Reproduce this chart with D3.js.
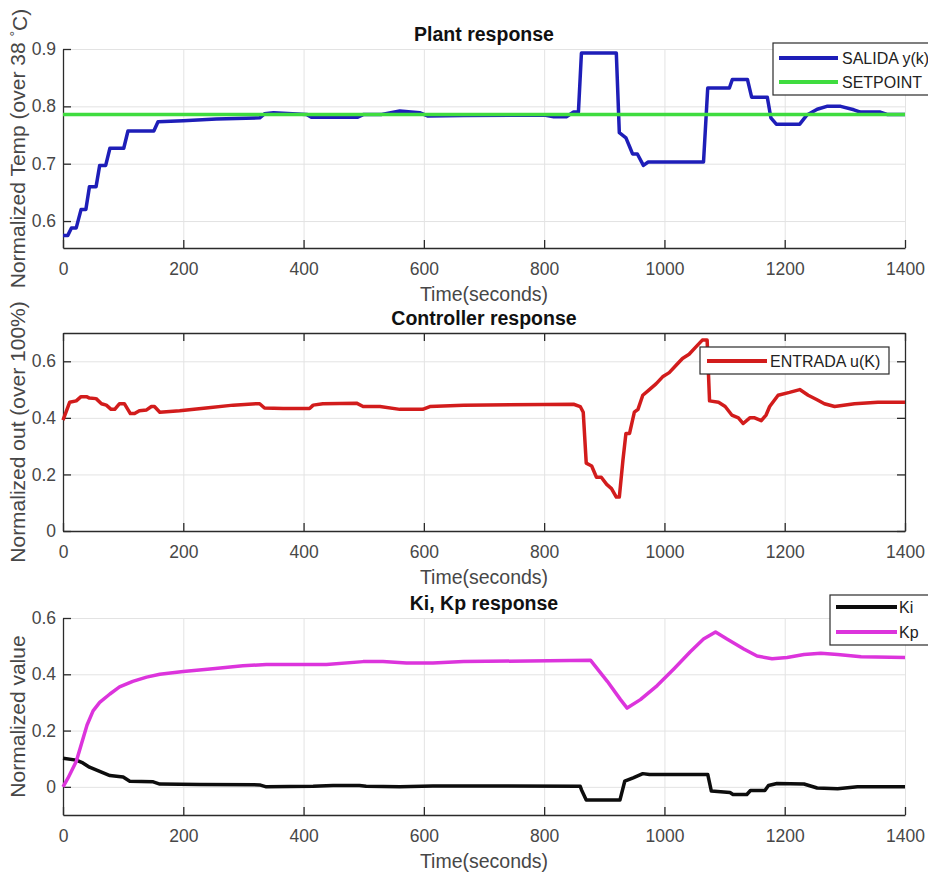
<!DOCTYPE html>
<html>
<head>
<meta charset="utf-8">
<script src="https://cdn.jsdelivr.net/npm/d3@7"></script>
<style>
  body { margin: 0; background: #fff; }
  text { font-family: "Liberation Sans", Arial, sans-serif; }
</style>
</head>
<body>
<svg id="PidChart"></svg>
<script>
// time axis (seconds)
var xTicks = [0, 200, 400, 600, 800, 1000, 1200, 1400]

// Plant response: SALIDA y(k) and SETPOINT
var salidaT = [0, 8, 14, 22, 30, 38, 44, 55, 61, 71, 78, 101, 108, 151, 158, 200, 255, 327, 335, 350, 405, 413, 490, 500, 530, 560, 593, 607, 666, 800, 816, 837, 849, 857, 862, 920, 925, 936, 942, 947, 955, 965, 973, 1065, 1072, 1108, 1113, 1138, 1145, 1171, 1177, 1186, 1225, 1237, 1254, 1270, 1293, 1315, 1326, 1359, 1370, 1400]
var salidaY = [0.575, 0.575, 0.588, 0.588, 0.62, 0.62, 0.66, 0.66, 0.697, 0.697, 0.727, 0.727, 0.757, 0.757, 0.773, 0.775, 0.778, 0.780, 0.787, 0.789, 0.786, 0.781, 0.781, 0.786, 0.786, 0.792, 0.789, 0.783, 0.784, 0.785, 0.782, 0.782, 0.79, 0.79, 0.893, 0.893, 0.754, 0.745, 0.73, 0.717, 0.717, 0.697, 0.703, 0.703, 0.832, 0.832, 0.847, 0.847, 0.816, 0.816, 0.78, 0.769, 0.769, 0.785, 0.795, 0.80, 0.80, 0.794, 0.79, 0.79, 0.786, 0.786]
var setpointT = [0, 1400]
var setpointY = [0.786, 0.786]

// Controller response: ENTRADA u(K)
var entradaT = [0, 5, 11, 22, 30, 39, 44, 55, 64, 72, 80, 86, 94, 102, 112, 119, 127, 139, 147, 152, 161, 194, 238, 283, 321, 327, 335, 366, 410, 416, 432, 488, 499, 527, 560, 598, 610, 666, 800, 849, 860, 865, 870, 879, 887, 895, 904, 912, 920, 925, 931, 936, 942, 950, 956, 964, 975, 986, 997, 1008, 1019, 1030, 1041, 1052, 1063, 1071, 1075, 1090, 1101, 1112, 1123, 1131, 1142, 1150, 1161, 1169, 1175, 1189, 1208, 1225, 1239, 1253, 1266, 1283, 1316, 1355, 1400]
var entradaY = [0.392, 0.42, 0.455, 0.46, 0.475, 0.475, 0.47, 0.468, 0.45, 0.445, 0.43, 0.43, 0.45, 0.45, 0.415, 0.415, 0.425, 0.428, 0.44, 0.44, 0.42, 0.425, 0.435, 0.445, 0.45, 0.45, 0.435, 0.433, 0.433, 0.445, 0.45, 0.452, 0.44, 0.44, 0.43, 0.43, 0.44, 0.445, 0.447, 0.448, 0.44, 0.42, 0.24, 0.23, 0.19, 0.19, 0.165, 0.15, 0.12, 0.12, 0.25, 0.345, 0.345, 0.42, 0.43, 0.48, 0.5, 0.52, 0.545, 0.56, 0.585, 0.61, 0.625, 0.65, 0.675, 0.675, 0.46, 0.455, 0.44, 0.41, 0.40, 0.38, 0.40, 0.40, 0.39, 0.41, 0.44, 0.48, 0.49, 0.50, 0.48, 0.465, 0.45, 0.44, 0.45, 0.455, 0.455]

// Ki, Kp response
var kiT = [0, 22, 33, 44, 61, 78, 100, 111, 150, 161, 227, 327, 338, 416, 449, 493, 504, 560, 615, 666, 860, 862, 870, 926, 934, 948, 964, 975, 1072, 1078, 1109, 1114, 1137, 1143, 1167, 1173, 1187, 1232, 1254, 1288, 1321, 1400]
var kiY = [0.102, 0.095, 0.085, 0.07, 0.055, 0.04, 0.035, 0.02, 0.018, 0.01, 0.008, 0.007, 0, 0.002, 0.005, 0.005, 0.002, 0, 0.003, 0.003, 0.002, -0.01, -0.047, -0.047, 0.02, 0.032, 0.047, 0.044, 0.044, -0.015, -0.02, -0.027, -0.027, -0.013, -0.013, 0.005, 0.012, 0.01, -0.004, -0.007, 0, 0]
var kpT = [0, 8, 22, 31, 40, 50, 61, 78, 94, 116, 139, 161, 200, 249, 299, 338, 394, 438, 499, 532, 571, 615, 666, 877, 905, 927, 938, 960, 988, 1016, 1043, 1065, 1085, 1104, 1132, 1154, 1179, 1204, 1232, 1260, 1288, 1327, 1400]
var kpY = [0, 0.03, 0.09, 0.155, 0.22, 0.27, 0.3, 0.33, 0.355, 0.375, 0.39, 0.4, 0.41, 0.42, 0.43, 0.435, 0.435, 0.435, 0.445, 0.445, 0.44, 0.44, 0.445, 0.45, 0.375, 0.31, 0.28, 0.31, 0.36, 0.42, 0.48, 0.525, 0.55, 0.525, 0.49, 0.465, 0.455, 0.46, 0.47, 0.475, 0.47, 0.462, 0.46]

var plantTicks = [0.6, 0.7, 0.8, 0.9]
var ctrlTicks = [0, 0.2, 0.4, 0.6]
var gainTicks = [0, 0.2, 0.4, 0.6]

var dimensions = {
    width: 928,
    height: 875,
    margin: { left: 63, right: 23 }
}

var svg = d3.select("#PidChart")
    .attr("width", dimensions.width)
    .attr("height", dimensions.height)

var xScale = d3.scaleLinear()
    .domain([0, 1400])
    .range([dimensions.margin.left, dimensions.width - dimensions.margin.right])

var axisColor = "#2b2b2b"
var textColor = "#474747"

function zip(ts, ys) {
    return ts.map(function(t, i) { return [t, ys[i]] })
}

// one subplot: grid, axes, title, labels; returns its y scale
function makePanel(p) {
    var yScale = d3.scaleLinear()
        .domain(p.yDomain)
        .range([p.bottom, p.top])

    var g = svg.append("g")

    // grid
    g.append("g")
        .attr("transform", "translate(0," + p.bottom + ")")
        .call(d3.axisBottom(xScale).tickValues(xTicks).tickSize(-(p.bottom - p.top)).tickFormat(""))
        .call(function(s) { s.select(".domain").remove() })
        .selectAll("line").attr("stroke", "#e3e3e3")
    g.append("g")
        .attr("transform", "translate(" + dimensions.margin.left + ",0)")
        .call(d3.axisLeft(yScale).tickValues(p.yTicks).tickSize(-(xScale.range()[1] - xScale.range()[0])).tickFormat(""))
        .call(function(s) { s.select(".domain").remove() })
        .selectAll("line").attr("stroke", "#e3e3e3")

    // bottom + left axes, ticks pointing in
    g.append("g")
        .attr("class", "ax")
        .attr("transform", "translate(0," + p.bottom + ")")
        .call(d3.axisBottom(xScale).tickValues(xTicks).tickSizeInner(-8).tickSizeOuter(0).tickPadding(15).tickFormat(d3.format("d")))
    g.append("g")
        .attr("class", "ax")
        .attr("transform", "translate(" + dimensions.margin.left + ",0)")
        .call(d3.axisLeft(yScale).tickValues(p.yTicks).tickSizeInner(-8).tickSizeOuter(0).tickPadding(7).tickFormat(d3.format("~g")))

    if (p.box) {
        g.append("g")
            .attr("class", "ax")
            .attr("transform", "translate(0," + p.top + ")")
            .call(d3.axisTop(xScale).tickValues(xTicks).tickSizeInner(-8).tickSizeOuter(0).tickFormat(""))
        g.append("g")
            .attr("class", "ax")
            .attr("transform", "translate(" + xScale.range()[1] + ",0)")
            .call(d3.axisRight(yScale).tickValues(p.yTicks).tickSizeInner(-8).tickSizeOuter(0).tickFormat(""))
    }

    g.selectAll(".ax .domain, .ax .tick line").attr("stroke", axisColor).attr("stroke-width", 1.3)
    g.selectAll(".ax .tick text")
        .attr("fill", textColor)
        .style("font-size", "17.5px")

    // title
    svg.append("text")
        .attr("x", (xScale.range()[0] + xScale.range()[1]) / 2)
        .attr("y", p.top - 8)
        .attr("text-anchor", "middle")
        .style("font-size", "19.5px")
        .style("font-weight", "bold")
        .attr("fill", "#111")
        .text(p.title)

    // x label
    svg.append("text")
        .attr("x", (xScale.range()[0] + xScale.range()[1]) / 2)
        .attr("y", p.bottom + 53)
        .attr("text-anchor", "middle")
        .style("font-size", "19.5px")
        .attr("fill", textColor)
        .text("Time(seconds)")

    // y label
    var yl = svg.append("text")
        .attr("transform", "translate(25," + ((p.top + p.bottom) / 2) + ") rotate(-90)")
        .attr("text-anchor", "middle")
        .style("font-size", "21px")
        .attr("fill", textColor)
    yl.append("tspan").text(p.ylabel)
    if (p.ylabelTail) {
        yl.append("tspan").attr("dy", "-0.35em").style("font-size", "14px").text("\u00b0")
        yl.append("tspan").attr("dy", "0.35em").text(p.ylabelTail)
    }

    return yScale
}

function drawLine(yScale, pts, color) {
    svg.append("path")
        .datum(pts)
        .attr("fill", "none")
        .attr("stroke", color)
        .attr("stroke-width", 3.5)
        .attr("stroke-linejoin", "round")
        .attr("d", d3.line().x(function(d) { return xScale(d[0]) }).y(function(d) { return yScale(d[1]) }))
}

function drawLegend(box, items) {
    var lg = svg.append("g")
    lg.append("rect")
        .attr("x", box.x).attr("y", box.y)
        .attr("width", box.w).attr("height", box.h)
        .attr("fill", "#fff")
        .attr("stroke", axisColor)
        .attr("stroke-width", 1.2)
    items.forEach(function(it, i) {
        var cy = box.y + box.first + i * box.step
        lg.append("line")
            .attr("x1", box.x + box.lx1).attr("x2", box.x + box.lx2)
            .attr("y1", cy).attr("y2", cy)
            .attr("stroke", it.color)
            .attr("stroke-width", 4)
        lg.append("text")
            .attr("x", box.x + box.tx)
            .attr("y", cy)
            .attr("dy", "0.35em")
            .style("font-size", "16px")
            .attr("fill", "#222")
            .text(it.label)
    })
}

var blue = "#1e1eb8", green = "#3fdc3f", red = "#d21c1c", magenta = "#dc34dc", black = "#0d0d0d"

// Plant response
var y1 = makePanel({
    top: 49, bottom: 248, yDomain: [0.553, 0.9], yTicks: plantTicks, box: false,
    title: "Plant response", ylabel: "Normalized Temp (over 38 ", ylabelTail: "C)"
})
drawLine(y1, zip(salidaT, salidaY), blue)
drawLine(y1, zip(setpointT, setpointY), green)
drawLegend({ x: 773, y: 43, w: 170, h: 52, first: 15, step: 24, lx1: 6, lx2: 65, tx: 69 },
    [{ label: "SALIDA y(k)", color: blue }, { label: "SETPOINT", color: green }])

// Controller response
var y2 = makePanel({
    top: 333, bottom: 531, yDomain: [0, 0.7], yTicks: ctrlTicks, box: true,
    title: "Controller response", ylabel: "Normalized out (over 100%)"
})
drawLine(y2, zip(entradaT, entradaY), red)
drawLegend({ x: 700, y: 347, w: 189, h: 27, first: 14, step: 0, lx1: 7, lx2: 67, tx: 70 },
    [{ label: "ENTRADA u(K)", color: red }])

// Ki, Kp response
var y3 = makePanel({
    top: 618, bottom: 815, yDomain: [-0.1, 0.6], yTicks: gainTicks, box: false,
    title: "Ki, Kp response", ylabel: "Normalized value"
})
drawLine(y3, zip(kiT, kiY), black)
drawLine(y3, zip(kpT, kpY), magenta)
drawLegend({ x: 830, y: 595, w: 110, h: 50, first: 12, step: 25, lx1: 6, lx2: 67, tx: 69 },
    [{ label: "Ki", color: black }, { label: "Kp", color: magenta }])
</script>
</body>
</html>
